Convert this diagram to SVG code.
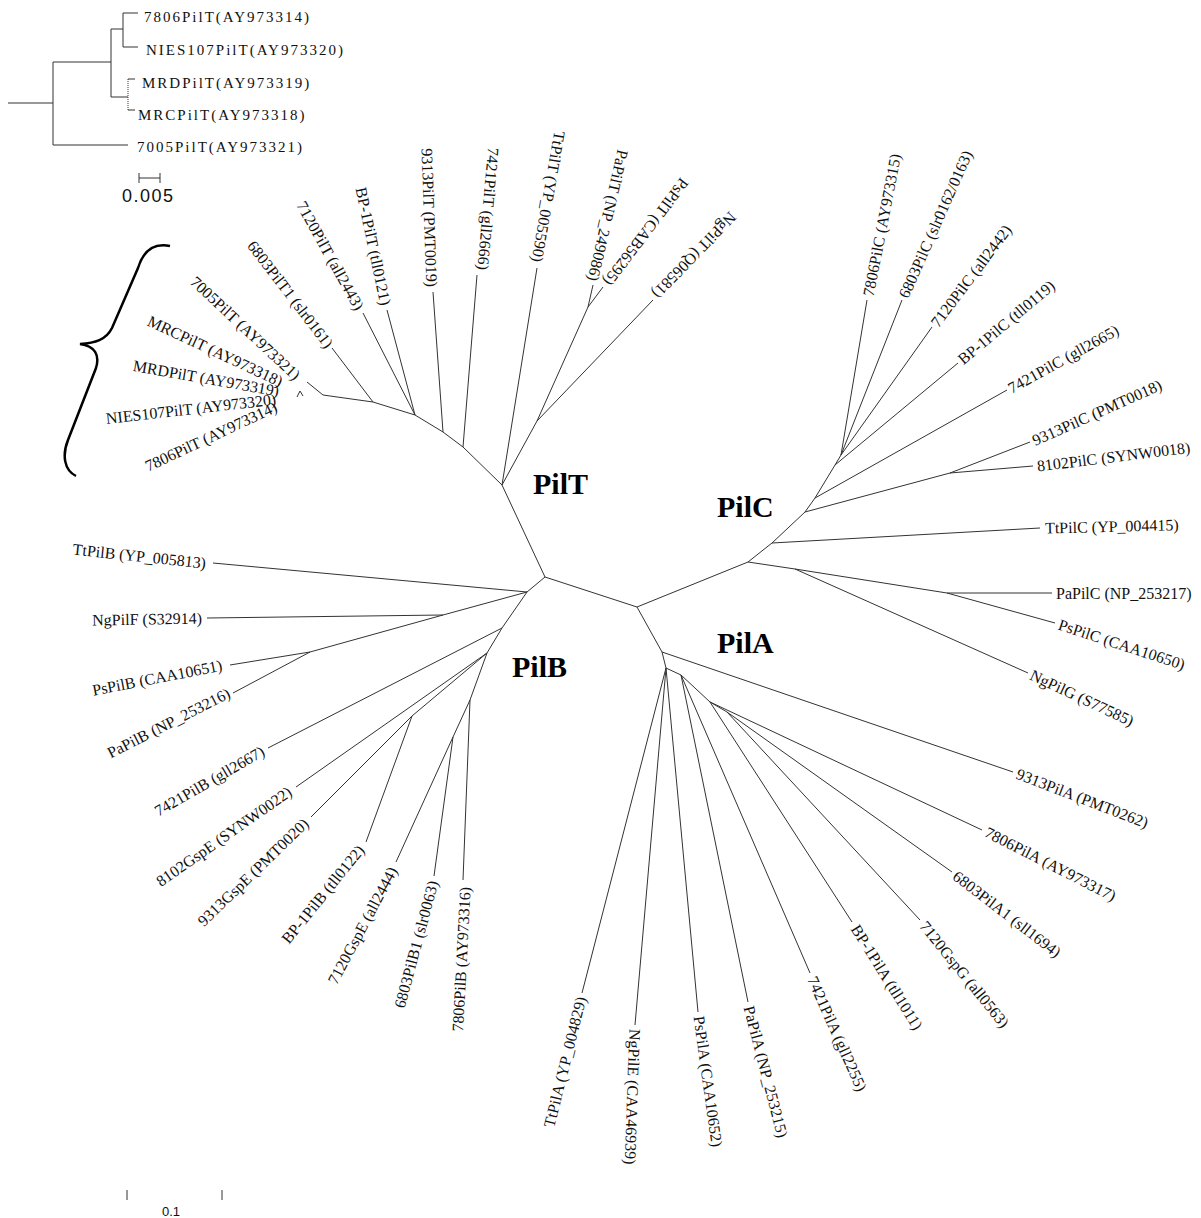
<svg xmlns="http://www.w3.org/2000/svg" width="1201" height="1218" viewBox="0 0 1201 1218">
<style>
.ln{fill:none;stroke:#333;stroke-width:1}
.lb{font-family:"Liberation Serif","Times New Roman",serif;font-size:16px;fill:#111}
.e{text-anchor:end}
.grp{font-family:"Liberation Serif","Times New Roman",serif;font-size:30px;font-weight:bold;fill:#000}
.ins{font-family:"Liberation Serif","Times New Roman",serif;font-size:15px;letter-spacing:2px;fill:#111}
.sc{font-family:"Liberation Sans",Arial,sans-serif;fill:#111}
</style>
<rect width="1201" height="1218" fill="#fff"/>
<g id="inset">
<path class="ln" d="M8,103 L53,103 M53,62 L53,145 M53,62 L111,62 M111,29 L111,97 M111,29 L123,29 M123,13 L123,47 M123,13 L138,13 M123,47 L138,47 M111,97 L128,97 M53,145 L128,145 M128,79 L135,79 M128,110 L135,110"/>
<path class="ln" d="M128,79 L128,110" stroke-dasharray="1,1"/>
<text class="ins" x="144" y="22">7806PilT(AY973314)</text>
<text class="ins" x="146" y="55">NIES107PilT(AY973320)</text>
<text class="ins" x="142" y="88">MRDPilT(AY973319)</text>
<text class="ins" x="138" y="120">MRCPilT(AY973318)</text>
<text class="ins" x="137" y="152">7005PilT(AY973321)</text>
<path class="ln" d="M139,178 L160,178 M139,173 L139,183 M160,173 L160,183"/>
<text class="sc" x="122" y="202" font-size="18" letter-spacing="1.5">0.005</text>
</g>
<g id="brace">
<path d="M170,246 C150,242 142,255 138,268 L112,328 C106,340 95,343 80,344 C95,346 100,355 96,368 L68,440 C62,455 64,470 76,476" fill="none" stroke="#000" stroke-width="2.5"/>
</g>
<g id="connectors">
<path class="ln" d="M545,577 L502,485 L463,447 L443,432 L415,415 L373,402 L323,395 L307,382 M373,402 L332,348 M415,415 L363,313 M415,415 L387,310 M443,432 L433,292 M463,447 L477,275 M502,485 L537,268 M502,485 L537,421 L588,307 L593,285 M588,307 L603,287 M537,421 L653,300 M297,397 L300,391 L303,396"/>
<path class="ln" d="M545,577 L637,607 L748,562 L772,543 L805,512 L815,498 L835,465 L841,455 M772,543 L1040,528 M805,512 L950,473 L1030,442 M950,473 L1033,466 M815,498 L1007,390 M835,465 L958,363 M841,455 L932,327 M841,455 L902,300 M841,455 L867,300 M748,562 L795,569 L1028,673 M795,569 L947,593 L1052,593 M947,593 L1055,623"/>
<path class="ln" d="M637,607 L662,652 L1013,772 M662,652 L666,668 L582,993 M666,668 L635,1025 M666,668 L698,1012 M666,668 L681,675 L748,1002 M681,675 L810,973 M681,675 L710,702 L852,922 M710,702 L982,830 M710,702 L727,712 L952,872 M727,712 L920,920"/>
<path class="ln" d="M545,577 L527,592 L213,563 M527,592 L443,615 L207,618 M443,615 L310,652 L230,665 M310,652 L233,693 M527,592 L502,628 L268,748 M502,628 L487,653 L296,787 M487,653 L470,700 L463,880 M487,653 L412,716 L311,817 M412,716 L366,842 M470,700 L453,737 L396,862 M453,737 L434,876"/>
</g>
<g id="groups">
<text class="grp" x="533" y="494">PilT</text>
<text class="grp" x="717" y="517">PilC</text>
<text class="grp" x="512" y="677">PilB</text>
<text class="grp" x="717" y="653">PilA</text>
</g>
<g id="pilT-leaves">
<text class="lb e" transform="translate(298,377) rotate(43)" dy="0.35em">7005PilT (AY973321)</text>
<text class="lb e" transform="translate(282,382) rotate(25)" dy="0.35em">MRCPilT (AY973318)</text>
<text class="lb e" transform="translate(279,391) rotate(10)" dy="0.35em">MRDPilT (AY973319)</text>
<text class="lb e" transform="translate(276,399) rotate(-6.5)" dy="0.35em">NIES107PilT (AY973320)</text>
<text class="lb e" transform="translate(276,406) rotate(-25)" dy="0.35em">7806PilT (AY973314)</text>
<text class="lb e" transform="translate(330,346) rotate(52.6)" dy="0.35em">6803PilT1 (slr0161)</text>
<text class="lb e" transform="translate(360,309) rotate(61)" dy="0.35em">7120PilT (all2443)</text>
<text class="lb e" transform="translate(386,305) rotate(78)" dy="0.35em">BP-1PilT (tll0121)</text>
<text class="lb e" transform="translate(432,287) rotate(88)" dy="0.35em">9313PilT (PMT0019)</text>
<text class="lb e" transform="translate(483,270) rotate(95)" dy="0.35em">7421PilT (gll2666)</text>
<text class="lb e" transform="translate(537,262) rotate(100)" dy="0.35em">TtPilT (YP_005590)</text>
<text class="lb e" transform="translate(593,281) rotate(103)" dy="0.35em">PaPilT (NP_249086)</text>
<text class="lb e" transform="translate(607,284) rotate(127)" dy="0.35em">PsPilT (CAB56295)</text>
<text class="lb e" transform="translate(655,296) rotate(134)" dy="0.35em">NgPilT (Q06581)</text>
</g>
<g id="pilC-leaves">
<text class="lb" transform="translate(1045,528) rotate(-1.5)" dy="0.35em">TtPilC (YP_004415)</text>
<text class="lb" transform="translate(1037,466) rotate(-7)" dy="0.35em">8102PilC (SYNW0018)</text>
<text class="lb" transform="translate(1033,441) rotate(-24)" dy="0.35em">9313PilC (PMT0018)</text>
<text class="lb" transform="translate(1009,389) rotate(-29)" dy="0.35em">7421PilC (gll2665)</text>
<text class="lb" transform="translate(960,361) rotate(-40)" dy="0.35em">BP-1PilC (tll0119)</text>
<text class="lb" transform="translate(934,325) rotate(-53)" dy="0.35em">7120PilC (all2442)</text>
<text class="lb" transform="translate(903,297) rotate(-66)" dy="0.35em">6803PilC (slr0162/0163)</text>
<text class="lb" transform="translate(868,296) rotate(-79)" dy="0.35em">7806PilC (AY973315)</text>
<text class="lb" transform="translate(1056,593)" dy="0.35em">PaPilC (NP_253217)</text>
<text class="lb" transform="translate(1059,624) rotate(18)" dy="0.35em">PsPilC (CAA10650)</text>
<text class="lb" transform="translate(1031,674) rotate(25)" dy="0.35em">NgPilG (S77585)</text>
</g>
<g id="pilA-leaves">
<text class="lb" transform="translate(1017,773) rotate(21)" dy="0.35em">9313PilA (PMT0262)</text>
<text class="lb" transform="translate(986,831) rotate(27)" dy="0.35em">7806PilA (AY973317)</text>
<text class="lb" transform="translate(955,874) rotate(37.5)" dy="0.35em">6803PilA1 (sll1694)</text>
<text class="lb" transform="translate(923,923) rotate(51)" dy="0.35em">7120GspG (all0563)</text>
<text class="lb" transform="translate(855,926) rotate(58)" dy="0.35em">BP-1PilA (tll1011)</text>
<text class="lb" transform="translate(812,977) rotate(66)" dy="0.35em">7421PilA (gll2255)</text>
<text class="lb" transform="translate(749,1006) rotate(75.5)" dy="0.35em">PaPilA (NP_253215)</text>
<text class="lb" transform="translate(699,1016) rotate(82)" dy="0.35em">PsPilA (CAA10652)</text>
<text class="lb" transform="translate(635,1029) rotate(92)" dy="0.35em">NgPilE (CAA46939)</text>
<text class="lb e" transform="translate(581,997) rotate(-76)" dy="0.35em">TtPilA (YP_004829)</text>
</g>
<g id="pilB-leaves">
<text class="lb e" transform="translate(206,563) rotate(6)" dy="0.35em">TtPilB (YP_005813)</text>
<text class="lb e" transform="translate(202,618) rotate(-1)" dy="0.35em">NgPilF (S32914)</text>
<text class="lb e" transform="translate(222,665) rotate(-11)" dy="0.35em">PsPilB (CAA10651)</text>
<text class="lb e" transform="translate(229,692) rotate(-27)" dy="0.35em">PaPilB (NP_253216)</text>
<text class="lb e" transform="translate(263,750) rotate(-30)" dy="0.35em">7421PilB (gll2667)</text>
<text class="lb e" transform="translate(290,790) rotate(-35)" dy="0.35em">8102GspE (SYNW0022)</text>
<text class="lb e" transform="translate(306,821) rotate(-44)" dy="0.35em">9313GspE (PMT0020)</text>
<text class="lb e" transform="translate(361,847) rotate(-51)" dy="0.35em">BP-1PilB (tll0122)</text>
<text class="lb e" transform="translate(393,868) rotate(-62)" dy="0.35em">7120GspE (all2444)</text>
<text class="lb e" transform="translate(433,881) rotate(-75)" dy="0.35em">6803PilB1 (slr0063)</text>
<text class="lb e" transform="translate(465,887) rotate(-87)" dy="0.35em">7806PilB (AY973316)</text>
</g>
<g id="scale">
<path class="ln" d="M127,1190 L127,1200 M222,1190 L222,1200"/>
<text class="sc" x="162" y="1216" font-size="13">0.1</text>
</g>
</svg>
